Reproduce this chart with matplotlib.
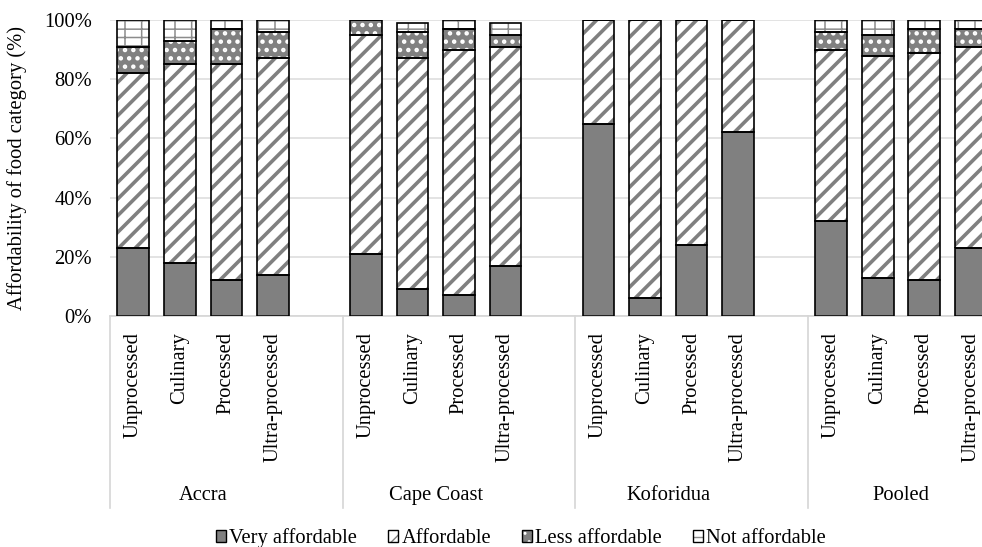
import matplotlib
matplotlib.use("Agg")
import matplotlib.pyplot as plt
from matplotlib.patches import Patch

plt.rcParams['font.family'] = ['Liberation Serif', 'DejaVu Serif']

cities = ['Accra', 'Cape Coast', 'Koforidua', 'Pooled']
foods = ['Unprocessed', 'Culinary', 'Processed', 'Ultra-processed']
levels = ['Very affordable', 'Affordable', 'Less affordable', 'Not affordable']

# shares (%) per city, in order of foods
very_affordable = [[23, 18, 12, 14], [21, 9, 7, 17], [65, 6, 24, 62], [32, 13, 12, 23]]
affordable = [[59, 67, 73, 73], [74, 78, 83, 74], [35, 94, 76, 38], [58, 75, 77, 68]]
less_affordable = [[9, 8, 12, 9], [5, 9, 7, 4], [0, 0, 0, 0], [6, 7, 8, 6]]
not_affordable = [[9, 7, 3, 4], [0, 3, 3, 4], [0, 0, 0, 0], [4, 5, 3, 3]]

series = [very_affordable, affordable, less_affordable, not_affordable]
# (face, hatch colour, hatch, hatch linewidth)
styles = [('#808080', '#808080', None, 1.0),
          ('white', '#808080', '//', 2.6),
          ('#808080', 'white', '..', 2.0),
          ('white', '#8c8c8c', '+-', 1.1)]

fig = plt.figure(figsize=(9.82, 5.47), dpi=100)
ax = fig.add_axes([110 / 982, 1 - 316 / 547, 872 / 982, 296 / 547])

bw = 0.68
for g in range(len(cities)):
    xs = [5 * g + i for i in range(len(foods))]
    bottom = [0] * len(foods)
    for s, data in enumerate(series):
        vals = data[g]
        face, hc, hatch, hlw = styles[s]
        with plt.rc_context({'hatch.linewidth': hlw}):
            ax.bar(xs, vals, bw, bottom=bottom, color=face, edgecolor=hc,
                   hatch=hatch, linewidth=0, zorder=2)
        ax.bar(xs, vals, bw, bottom=bottom, fill=False, edgecolor='black',
               linewidth=1.2, zorder=3)
        bottom = [b + v for b, v in zip(bottom, vals)]

ax.set_xlim(-0.5, 18.24)
ax.set_ylim(0, 100)
ax.set_yticks(range(0, 101, 20))
ax.set_yticklabels([f'{v}%' for v in range(0, 101, 20)], fontsize=14.8)
ax.yaxis.grid(True, color='#dedede', linewidth=1.2, zorder=0)
ax.set_axisbelow(True)
ax.tick_params(axis='y', length=0, pad=13)

ticks = [5 * g + i for g in range(len(cities)) for i in range(len(foods))]
ax.set_xticks(ticks)
ax.set_xticklabels(foods * len(cities), rotation=90, fontsize=14.8, va='top')
ax.tick_params(axis='x', length=0, pad=11.5)

for side in ['left', 'right', 'top']:
    ax.spines[side].set_visible(False)
ax.spines['bottom'].set_color('#d6d6d6')
ax.spines['bottom'].set_linewidth(1.2)

# multi-level category axis
trans = ax.get_xaxis_transform()
for g in range(len(cities)):
    ax.plot([5 * g - 0.5, 5 * g - 0.5], [0, -0.649], transform=trans,
            color='#d6d6d6', linewidth=1.2, clip_on=False)
    ax.text(5 * g + 1.5, -0.605, cities[g], transform=trans, ha='center',
            va='center', fontsize=14.8)

fig.text(17 / 982, 1 - 168 / 547, 'Affordability of food category (%)',
         rotation=90, ha='center', va='center', fontsize=14.8)

handles = []
for face, hc, hatch, hlw in styles:
    with plt.rc_context({'hatch.linewidth': 0.8}):
        h1 = Patch(facecolor=face, edgecolor=hc, hatch=hatch, linewidth=0)
    h2 = Patch(fill=False, edgecolor='black', linewidth=1.0)
    handles.append((h1, h2))
fig.legend(handles, levels, loc='center', bbox_to_anchor=(521 / 982, 9 / 547),
           ncol=4, frameon=False, fontsize=14.8, handlelength=0.5,
           handleheight=0.5, handletextpad=0.15, columnspacing=1.5,
           borderpad=0)

fig.savefig('out.png', dpi=100)
